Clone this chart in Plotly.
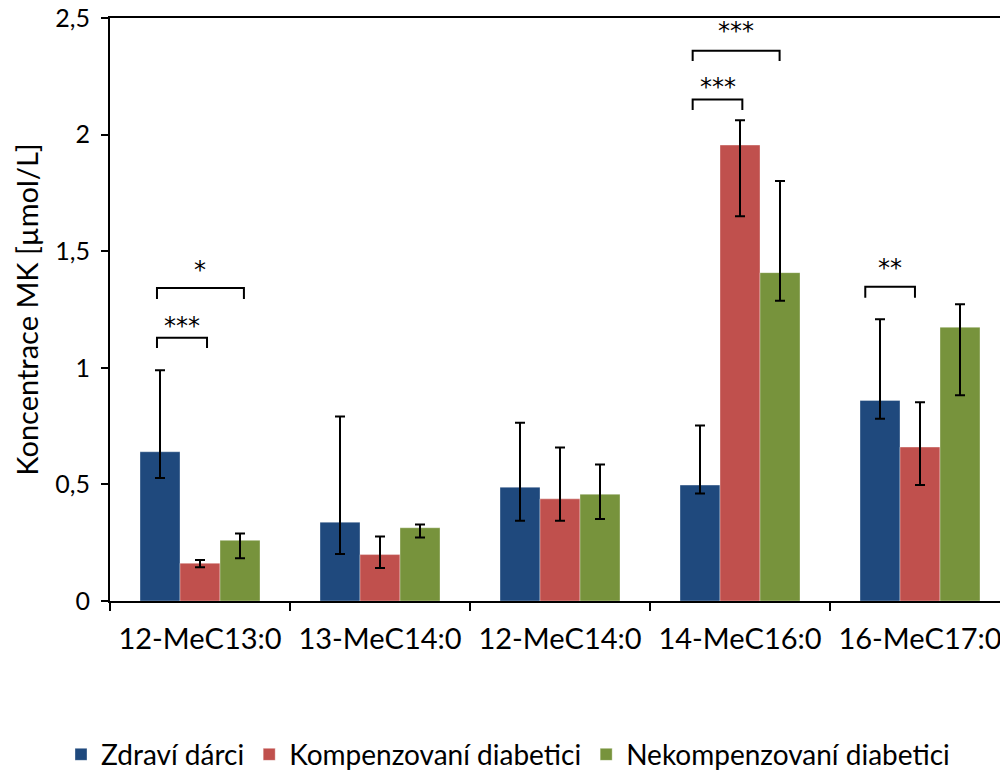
import plotly.graph_objects as go

categories = ["12-MeC13:0", "13-MeC14:0", "12-MeC14:0", "14-MeC16:0", "16-MeC17:0"]
series_names = ["Zdraví dárci", "Kompenzovaní diabetici", "Nekompenzovaní diabetici"]

zdravi = [0.640, 0.338, 0.488, 0.497, 0.860]
zdravi_hi = [0.990, 0.791, 0.764, 0.753, 1.208]
zdravi_lo = [0.527, 0.202, 0.344, 0.461, 0.782]

kompenz = [0.162, 0.199, 0.438, 1.955, 0.660]
kompenz_hi = [0.176, 0.277, 0.658, 2.061, 0.852]
kompenz_lo = [0.145, 0.141, 0.344, 1.650, 0.497]

nekompenz = [0.260, 0.314, 0.458, 1.408, 1.174]
nekompenz_hi = [0.289, 0.328, 0.585, 1.801, 1.272]
nekompenz_lo = [0.183, 0.272, 0.352, 1.288, 0.882]

# significance brackets: (category index, left offset, right offset, bar y, leg y, label, label y)
sig_category = [0, 0, 3, 3, 4]
sig_x0 = [-0.239, -0.239, -0.263, -0.263, -0.304]
sig_x1 = [0.039, 0.244, 0.013, 0.220, -0.028]
sig_y = [1.129, 1.342, 2.151, 2.360, 1.348]
sig_leg = [1.085, 1.295, 2.105, 2.316, 1.300]
sig_label = ["***", "*", "***", "***", "**"]
sig_label_y = [1.179, 1.419, 2.204, 2.445, 1.428]

colors = ["#1F497D", "#C0504D", "#77933C"]
FONT = "Lato"
STAR_FONT = "DejaVu Sans"

fig = go.Figure()
for name, vals, hi, lo, col in zip(
    series_names,
    [zdravi, kompenz, nekompenz],
    [zdravi_hi, kompenz_hi, nekompenz_hi],
    [zdravi_lo, kompenz_lo, nekompenz_lo],
    colors,
):
    fig.add_trace(go.Bar(
        name=name, x=categories, y=vals,
        marker=dict(color=col, line=dict(color="rgba(255,255,255,0.35)", width=1)),
        error_y=dict(
            type="data", symmetric=False,
            array=[h - v for h, v in zip(hi, vals)],
            arrayminus=[v - l for v, l in zip(vals, lo)],
            color="black", thickness=2, width=5,
        ),
    ))

shapes = []
annotations = []
for c, a, b, y, yl, lab, ly in zip(sig_category, sig_x0, sig_x1, sig_y, sig_leg, sig_label, sig_label_y):
    x0 = c + a
    x1 = c + b
    shapes.append(dict(
        type="path", xref="x", yref="y",
        path=f"M {x0},{yl} L {x0},{y} L {x1},{y} L {x1},{yl}",
        line=dict(color="black", width=2),
    ))
    annotations.append(dict(
        x=(x0 + x1) / 2, y=ly, xref="x", yref="y", text=lab, showarrow=False,
        yanchor="middle", font=dict(family=STAR_FONT, size=24, color="black"),
    ))

fig.update_layout(
    width=1000, height=774,
    margin=dict(l=110, r=0, t=18, b=173, autoexpand=False),
    paper_bgcolor="white", plot_bgcolor="white",
    barmode="group", bargap=1/3, bargroupgap=0,
    separators=", ",
    font=dict(family=FONT, size=24, color="black"),
    shapes=shapes, annotations=annotations,
    showlegend=True,
    legend=dict(
        orientation="h", xref="container", x=0.508, xanchor="center",
        yref="container", y=0.025, yanchor="middle",
        font=dict(family=FONT, size=28, color="black"),
        itemwidth=30, traceorder="normal", tracegroupgap=0,
    ),
)
fig.update_xaxes(
    type="category", range=[-0.5, 4.5 - 10 / 180], automargin=False,
    showline=True, linecolor="black", linewidth=2, mirror=True,
    ticks="outside", tickson="boundaries", ticklen=8, tickwidth=2, tickcolor="black",
    tickfont=dict(family=FONT, size=29, color="black"), tickangle=0,
    ticklabelstandoff=11, showgrid=False,
)
fig.update_yaxes(
    range=[0, 2.5], tickvals=[0, 0.5, 1, 1.5, 2, 2.5], tickformat=".1~f", automargin=False,
    showline=True, linecolor="black", linewidth=2,
    ticks="outside", ticklen=7, tickwidth=2, tickcolor="black",
    tickfont=dict(family=FONT, size=25, color="black"),
    ticklabelstandoff=6, showgrid=False, zeroline=False,
    title=dict(text="Koncentrace MK [µmol/L]", font=dict(family=FONT, size=29, color="black"), standoff=8),
)

fig.write_html("out.html")
